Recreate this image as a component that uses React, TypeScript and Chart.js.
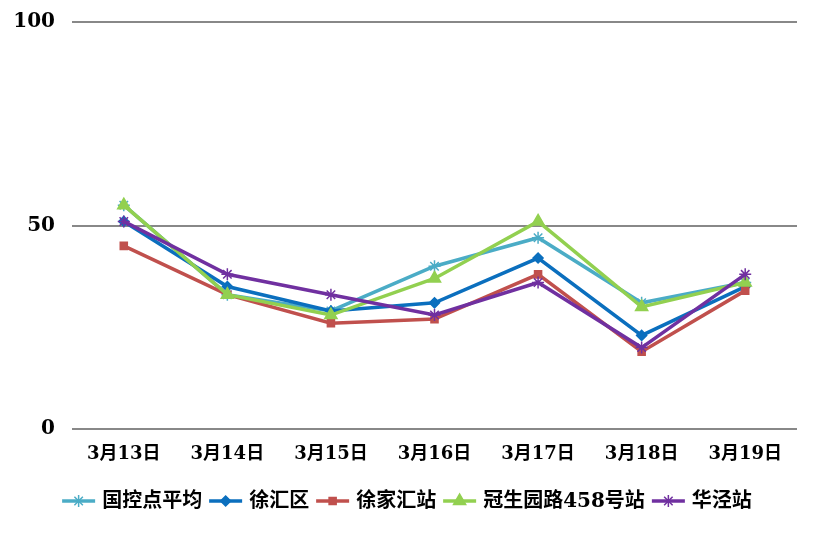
import React, { useEffect, useRef } from 'react';
import { Chart, registerables } from 'chart.js';
import { drawPoint } from 'chart.js/helpers';

Chart.register(...registerables);

const categories = ['3月13日', '3月14日', '3月15日', '3月16日', '3月17日', '3月18日', '3月19日'];
const seriesNames = ['国控点平均', '徐汇区', '徐家汇站', '冠生园路458号站', '华泾站'];
const guokongAvg = [55, 33, 29, 40, 47, 31, 36];
const xuhuiDistrict = [51, 35, 29, 31, 42, 23, 35];
const xujiahui = [45, 33, 26, 27, 38, 19, 34];
const guanshengyuan = [55, 33, 28, 37, 51, 30, 36];
const huajing = [51, 38, 33, 28, 36, 20, 38];
const yTicks = [0, 50, 100];

const colors = ['#4BACC6', '#0B6FBE', '#C0504D', '#92D050', '#7030A0'];
const markers = ['star', 'rectRot', 'rect', 'triangle', 'star'];
const radii = [6, 5, 5, 7, 6];

const FONT_FAMILY = '"DejaVu Serif", "Noto Sans CJK SC", serif';

const legendPlugin = {
  id: 'customLegend',
  afterDraw(chart: any) {
    const ctx = chart.ctx;
    ctx.save();
    ctx.font = `bold 20px ${FONT_FAMILY}`;
    ctx.textBaseline = 'middle';
    ctx.textAlign = 'left';
    const sampleW = 33;
    const gapText = 7;
    const gapItem = 7;
    const items = chart.data.datasets.map((ds: any) => ({
      ds,
      w: ctx.measureText(ds.label).width,
    }));
    const total = items.reduce((s: number, it: any) => s + sampleW + gapText + it.w, 0) + gapItem * (items.length - 1);
    let x = (chart.width - total) / 2;
    const y = 501;
    items.forEach((it: any) => {
      const ds = it.ds;
      ctx.strokeStyle = ds.borderColor;
      ctx.fillStyle = ds.backgroundColor;
      ctx.lineWidth = 3.5;
      ctx.beginPath();
      ctx.moveTo(x, y);
      ctx.lineTo(x + sampleW, y);
      ctx.stroke();
      ctx.lineWidth = 1.5;
      drawPoint(ctx, { pointStyle: ds.pointStyle, radius: ds.pointRadius, rotation: 0, borderWidth: 1.5 }, x + sampleW / 2, y);
      ctx.fillStyle = '#000000';
      ctx.fillText(ds.label, x + sampleW + gapText, y + 1);
      x += sampleW + gapText + it.w + gapItem;
    });
    ctx.restore();
  },
};

export default function App() {
  const ref = useRef<HTMLCanvasElement | null>(null);
  useEffect(() => {
    if (!ref.current) return;
    const values = [guokongAvg, xuhuiDistrict, xujiahui, guanshengyuan, huajing];
    const chart = new Chart(ref.current, {
      type: 'line',
      data: {
        labels: categories,
        datasets: seriesNames.map((name, i) => ({
          label: name,
          data: values[i],
          borderColor: colors[i],
          backgroundColor: colors[i],
          pointBackgroundColor: colors[i],
          pointBorderColor: colors[i],
          pointStyle: markers[i],
          pointRadius: radii[i],
          pointBorderWidth: 1.5,
          borderWidth: 3.5,
          tension: 0,
          fill: false,
          order: seriesNames.length - i,
        })),
      },
      options: {
        responsive: false,
        animation: false,
        layout: { padding: { top: 22, right: 17, left: 0, bottom: 0 } },
        plugins: {
          legend: { display: false },
          tooltip: { enabled: false },
        },
        scales: {
          x: {
            offset: true,
            grid: { display: false, drawTicks: false },
            border: { display: false },
            ticks: {
              color: '#000000',
              font: { family: FONT_FAMILY, size: 18, weight: 'bold' },
              padding: 15,
              maxRotation: 0,
            },
            afterFit: (scale: any) => {
              scale.height = 104;
            },
          },
          y: {
            min: 0,
            max: 100,
            afterBuildTicks: (scale: any) => {
              scale.ticks = yTicks.map((v) => ({ value: v }));
            },
            grid: { color: '#888888', lineWidth: 2, drawTicks: false },
            border: { display: false },
            ticks: {
              color: '#000000',
              font: { family: FONT_FAMILY, size: 20, weight: 'bold' },
              padding: 17,
            },
            afterFit: (scale: any) => {
              scale.width = 72;
              scale.paddingTop = 0;
              scale.paddingBottom = 0;
            },
          },
        },
      },
      plugins: [legendPlugin],
    });
    return () => chart.destroy();
  }, []);
  return (
    <div style={{ position: 'absolute', left: 0, top: 0, width: 814, height: 533, background: '#ffffff' }}>
      <canvas ref={ref} width={814} height={533} style={{ display: 'block' }} />
    </div>
  );
}
